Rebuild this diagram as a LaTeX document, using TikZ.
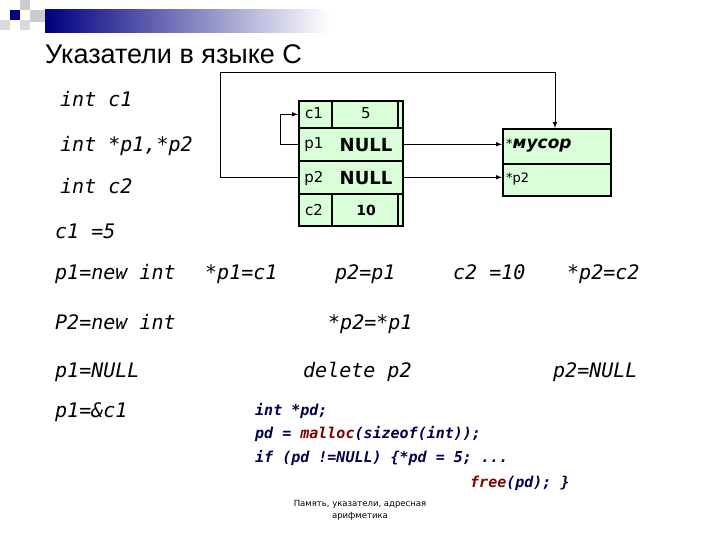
\documentclass[tikz,border=0pt]{standalone}
\usepackage{fontspec}
\setmainfont{DejaVu Sans}
\newfontfamily\titlefont{Liberation Sans}
\newfontfamily\codefont{DejaVu Sans Mono}
\begin{document}
\begin{tikzpicture}[x=1pt,y=-1pt,
  cell/.style={draw,line width=1.6pt,fill=green!15},
  lbl/.style={anchor=base west,inner sep=0,font=\codefont\itshape\fontsize{20}{22}\selectfont},
  code/.style={anchor=base west,inner sep=0,font=\codefont\itshape\bfseries\fontsize{15}{17}\selectfont,text=blue!30!black},
  arr/.style={-latex,line width=1pt}]
\useasboundingbox (0,0) rectangle (720,540);
% header
\shade[left color=blue!50!black,right color=white] (45,10) rectangle (330,33);
\fill[blue!50!black] (10,10) rectangle (20,20);
\fill[gray!40] (20,0) rectangle (30,10);
\fill[gray!30] (20,20) rectangle (30,30);
\fill[gray!40] (30,10) rectangle (45,22);
\fill[gray!30] (0,20) rectangle (10,30);
\node[anchor=base west,inner sep=0,font=\titlefont\fontsize{27}{30}\selectfont] (title) at (45,64) {Указатели в языке С};
% memory table
\foreach \n/\a/\b in {c1/100/127,p1/127/160,p2/160/193,c2/193/225}{
  \node[cell,minimum width=104pt,minimum height={\b-\a},inner sep=0,anchor=north west] (\n) at (298,\a) {};}
\draw[line width=1.2pt] (332,100) -- (332,127) (332,193) -- (332,225);
\draw[line width=1.2pt] (398,100) -- (398,127) (398,193) -- (398,225);
\node[font=\fontsize{15}{17}\selectfont] (tc1) at (314,113) {c1};
\node[font=\fontsize{15}{17}\selectfont] (tv1) at (366,113) {5};
\node[font=\fontsize{15}{17}\selectfont] (tp1) at (314,145) {p1};
\node[font=\bfseries\fontsize{18}{20}\selectfont] (tn1) at (366,145) {NULL};
\node[font=\fontsize{15}{17}\selectfont] (tp2) at (314,178) {p2};
\node[font=\bfseries\fontsize{18}{20}\selectfont] (tn2) at (366,178) {NULL};
\node[font=\fontsize{15}{17}\selectfont] (tc2) at (314,210) {c2};
\node[font=\bfseries\fontsize{14}{16}\selectfont] (tv2) at (366,210) {10};
% heap box
\node[cell,minimum width=108pt,minimum height=35pt,inner sep=0,anchor=north west] (h1) at (502,128) {};
\node[cell,minimum width=108pt,minimum height=32pt,inner sep=0,anchor=north west] (h2) at (502,163) {};
\node[anchor=west,inner sep=0,font=\fontsize{13}{15}\selectfont] (hs) at (506,146) {*\textbf{\textit{\fontsize{17}{19}\selectfont мусор}}};
\node[anchor=west,inner sep=0,font=\fontsize{13}{15}\selectfont] (hp) at (506,179) {*p2};
% connectors
\draw[arr] (p1.west) -- ++(-18,0) |- (c1.west);
\draw[arr] (p2.west) -- ++(-78,0) |- (555,73) -- (h1.north -| 555,0);
\draw[arr] (p1.east) -- (p1.east -| h1.west);
\draw[arr] (p2.east) -- (p2.east -| h2.west);
% statements
\node[lbl] (s1) at (60,107) {int c1};
\node[lbl] (s2) at (60,152) {int *p1,*p2};
\node[lbl] (s3) at (60,194) {int c2};
\node[lbl] (s4) at (55,239) {c1 =5};
\node[lbl] (s5) at (55,279) {p1=new int};
\node[lbl] (s6) at (205,279) {*p1=c1};
\node[lbl] (s7) at (335,279) {p2=p1};
\node[lbl] (s8) at (453,279) {c2 =10};
\node[lbl] (s9) at (567,279) {*p2=c2};
\node[lbl] (s10) at (55,329) {P2=new int};
\node[lbl] (s11) at (328,329) {*p2=*p1};
\node[lbl] (s12) at (55,377) {p1=NULL};
\node[lbl] (s13) at (303,377) {delete p2};
\node[lbl] (s14) at (553,377) {p2=NULL};
\node[lbl] (s15) at (55,417) {p1=\&c1};
% code
\node[code] (k1) at (255,415) {int *pd;};
\node[code] (k2) at (255,438) {pd = \textcolor{red!50!black}{malloc}(sizeof(int));};
\node[code] (k3) at (255,462) {if (pd !=NULL) \{*pd = 5; ...};
\node[code] (k4) at (470,487) {\textcolor{red!50!black}{free}(pd); \}};
% footer
\node[align=center,font=\fontsize{8.5}{12}\selectfont] (foot) at (360,510) {Память, указатели, адресная\\арифметика};
\end{tikzpicture}
\end{document}
